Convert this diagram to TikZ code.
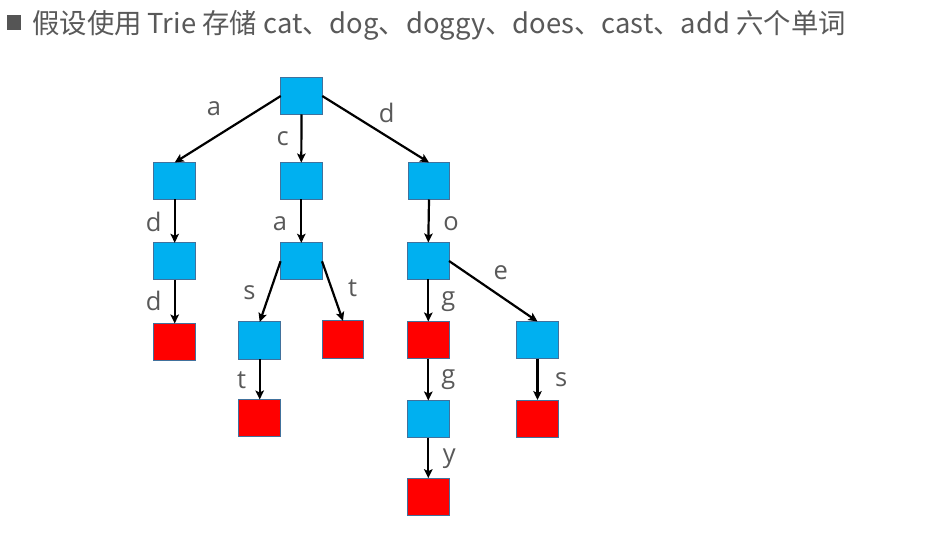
\documentclass[tikz,border=0pt]{standalone}
\usepackage{fontspec}
\setmainfont{Open Sans}
\newfontfamily\cjkfont{Noto Sans CJK SC}
\usetikzlibrary{arrows.meta}
\definecolor{boxblue}{HTML}{00B0F0}
\definecolor{boxred}{HTML}{FF0000}
\definecolor{boxedge}{HTML}{41719C}
\definecolor{txtgray}{HTML}{595959}
\definecolor{bulletgray}{HTML}{555555}
\tikzset{
  trienode/.style={draw=boxedge, line width=1pt, minimum width=41.5pt, minimum height=37pt, inner sep=0pt, outer sep=0pt},
  inner/.style={trienode, fill=boxblue},
  leaf/.style={trienode, fill=boxred},
  edge/.style={draw=black, line width=2.2pt, -{Stealth[length=9pt,width=8.5pt,inset=2pt]}},
  lbl/.style={text=txtgray, font=\fontsize{25.5}{25.5}\selectfont, inner sep=0pt},
}
\begin{document}
\begin{tikzpicture}[x=1pt,y=-1pt]
\useasboundingbox[fill=white] (0,0) rectangle (939,534);
% title
\node[fill=bulletgray, minimum width=14pt, minimum height=15pt, inner sep=0pt] (bullet) at (13.7,22.5) {};
\node[anchor=west, inner sep=0pt, text=txtgray, font=\cjkfont\fontsize{27.4}{27.4}\selectfont] (title) at (32,25) {假设使用 Trie 存储 cat、dog、doggy、does、cast、add 六个单词};
% nodes
\node[inner] (root) at (301.5,96) {};
\node[inner] (a1) at (174.7,181) {};
\node[inner] (c1) at (301.3,181) {};
\node[inner] (d1) at (429,181) {};
\node[inner] (a2) at (174.7,261.3) {};
\node[inner] (ca) at (301.3,261.3) {};
\node[inner] (do) at (428.3,261) {};
\node[leaf] (add) at (174.7,342) {};
\node[inner] (cas) at (259.7,340.5) {};
\node[leaf] (cat) at (343,339.5) {};
\node[leaf] (dog) at (428.3,340) {};
\node[inner] (doe) at (537.5,340) {};
\node[leaf] (cast) at (259.7,418) {};
\node[inner] (dogg) at (428.3,419) {};
\node[leaf] (does) at (537.5,418.5) {};
\node[leaf] (doggy) at (428.3,496.7) {};
% edges
\draw[edge] (root.west) -- (a1.north);
\draw[edge] (root.south) -- (c1.north);
\draw[edge] (root.east) -- (d1.north);
\draw[edge] (a1.south) -- (a2.north);
\draw[edge] (c1.south) -- (ca.north);
\draw[edge] (d1.south) -- (do.north);
\draw[edge] (a2.south) -- (add.north);
\draw[edge] (ca.west) -- (cas.north);
\draw[edge] (ca.east) -- (cat.north);
\draw[edge] (do.south) -- (dog.north);
\draw[edge] (do.east) -- (doe.north);
\draw[edge] (cas.south) -- (cast.north);
\draw[edge] (dog.south) -- (dogg.north);
\draw[edge] (doe.south) -- (does.north);
\draw[edge] (dogg.south) -- (doggy.north);
% labels
\node[lbl] (la) at (214,108.7) {a};
\node[lbl] (lc) at (282.7,138.3) {c};
\node[lbl] (ld) at (386.7,113.3) {d};
\node[lbl] (ld2) at (153.7,221.7) {d};
\node[lbl] (la2) at (280,223.7) {a};
\node[lbl] (lo) at (451,223.7) {o};
\node[lbl] (ld3) at (153.7,300.5) {d};
\node[lbl] (ls) at (249.5,292.8) {s};
\node[lbl] (lt) at (352.5,288.3) {t};
\node[lbl] (lg) at (448.3,301.7) {g};
\node[lbl] (le) at (500.7,272.2) {e};
\node[lbl] (lt2) at (241.7,380.5) {t};
\node[lbl] (lg2) at (448.3,380) {g};
\node[lbl] (ls2) at (561.3,379.5) {s};
\node[lbl] (ly) at (449.3,458.3) {y};
\end{tikzpicture}
\end{document}
